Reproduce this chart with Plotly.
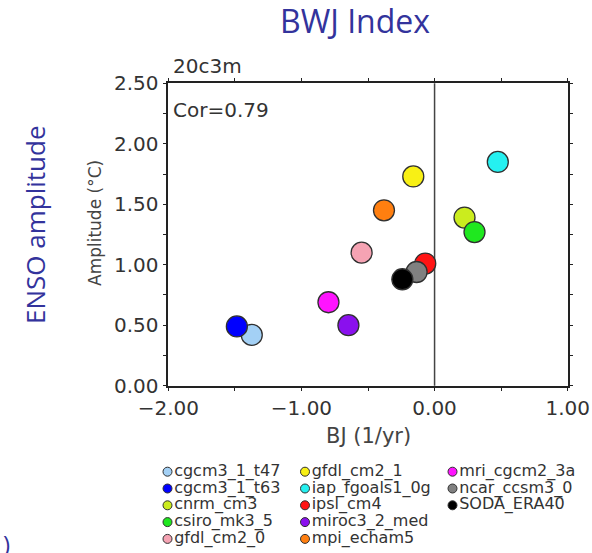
import plotly.graph_objects as go

# ---- data ----
models = ["cgcm3_1_t47", "cgcm3_1_t63", "cnrm_cm3", "csiro_mk3_5", "gfdl_cm2_0",
          "gfdl_cm2_1", "iap_fgoals1_0g", "ipsl_cm4", "miroc3_2_med", "mpi_echam5",
          "mri_cgcm2_3a", "ncar_ccsm3_0", "SODA_ERA40"]
bj = [-1.373, -1.485, 0.225, 0.30, -0.548, -0.16, 0.475, -0.07, -0.647, -0.38,
      -0.797, -0.135, -0.242]
amplitude = [0.42, 0.49, 1.39, 1.27, 1.10, 1.73, 1.85, 1.01, 0.50, 1.45, 0.69, 0.94, 0.88]
colors = ["#a3d0f5", "#0000ff", "#cbec1e", "#1fe81f", "#f5a3b3", "#f8f015", "#25f0f0",
          "#ff1414", "#8a10ee", "#ff7f10", "#ff14ff", "#808080", "#000000"]
correlation = 0.79
W, H = 592, 553

fig = go.Figure()

# main scatter
fig.add_trace(go.Scatter(
    x=bj, y=amplitude, mode="markers",
    marker=dict(size=21, color=colors, line=dict(color="#303030", width=1.3)),
    text=models, hoverinfo="text+x+y", showlegend=False,
    xaxis="x", yaxis="y"))

# custom 3-column legend (column-major order) on an overlay pixel axis
col_px = [167.5, 305, 452.5]
row_px0, row_step = 471.7, 16.8
lx = [col_px[i // 5] for i in range(len(models))]
ly = [row_px0 + row_step * (i % 5) for i in range(len(models))]
fig.add_trace(go.Scatter(
    x=lx, y=ly, mode="markers+text", text=models, textposition="middle right",
    textfont=dict(family="DejaVu Sans", size=16, color="#333333"),
    marker=dict(size=9, color=colors, line=dict(color="#303030", width=1)),
    hoverinfo="skip", showlegend=False, xaxis="x2", yaxis="y2", cliponaxis=False))

axis_font = dict(family="DejaVu Sans", size=20, color="#333333")
tick_common = dict(ticks="outside", ticklen=4, tickwidth=1.2, tickcolor="#222")
fig.update_layout(
    width=W, height=H,
    margin=dict(l=0, r=0, t=0, b=0, pad=0, autoexpand=False),
    paper_bgcolor="white", plot_bgcolor="rgba(0,0,0,0)",
    showlegend=False,
    xaxis=dict(domain=[168.3 / W, 567.7 / W], range=[-2, 1], anchor="y",
               tickmode="linear", dtick=1, tick0=0, tickformat=".2f",
               minor=dict(tickmode="linear", dtick=0.5, tick0=0, **tick_common),
               showline=True, linecolor="#222", linewidth=1.5, mirror="ticks",
               showgrid=False, zeroline=False, tickfont=axis_font, automargin=False,
               **tick_common),
    yaxis=dict(domain=[1 - 385.7 / H, 1 - 83.3 / H], range=[0, 2.5], anchor="x",
               tickmode="linear", dtick=0.5, tick0=0, tickformat=".2f",
               minor=dict(tickmode="linear", dtick=0.25, tick0=0, **tick_common),
               showline=True, linecolor="#222", linewidth=1.5, mirror="ticks",
               showgrid=False, zeroline=False, tickfont=axis_font, automargin=False,
               **tick_common),
    xaxis2=dict(domain=[0, 1], range=[0, W], visible=False, anchor="y2", fixedrange=True),
    yaxis2=dict(domain=[0, 1], range=[H, 0], visible=False, anchor="x2", fixedrange=True),
)

# zero line
fig.add_shape(type="line", xref="x", yref="y domain", x0=0, x1=0, y0=0, y1=1,
              line=dict(color="#444444", width=1.5), layer="below")

title_col = "#33339c"
ann = [
    dict(text="BWJ Index", x=355 / W, y=1 - 21 / H, font=dict(family="Open Sans", size=32, color=title_col)),
    dict(text="ENSO amplitude", x=35 / W, y=1 - 225 / H, textangle=-90,
         font=dict(family="Open Sans", size=26, color=title_col)),
    dict(text=")", x=6 / W, y=1 - 543 / H, font=dict(family="Open Sans", size=24, color=title_col)),
    dict(text="20c3m", x=171 / W, y=1 - 66 / H, xanchor="left",
         font=dict(family="DejaVu Sans", size=20, color="#333333")),
    dict(text="Cor=%.2f" % correlation, x=171 / W, y=1 - 110 / H, xanchor="left",
         font=dict(family="DejaVu Sans", size=20, color="#333333")),
    dict(text="BJ (1/yr)", x=368 / W, y=1 - 436 / H,
         font=dict(family="DejaVu Sans", size=21, color="#444444")),
    dict(text="Amplitude (°C)", x=95 / W, y=1 - 223 / H, textangle=-90,
         font=dict(family="DejaVu Sans", size=17, color="#444444")),
]
for a in ann:
    a.setdefault("xanchor", "center")
    fig.add_annotation(xref="paper", yref="paper", yanchor="middle", showarrow=False, **a)

fig.write_html("out.html", config={"displayModeBar": False},
               post_script="document.body.style.margin='0';document.body.style.overflow='hidden';")
